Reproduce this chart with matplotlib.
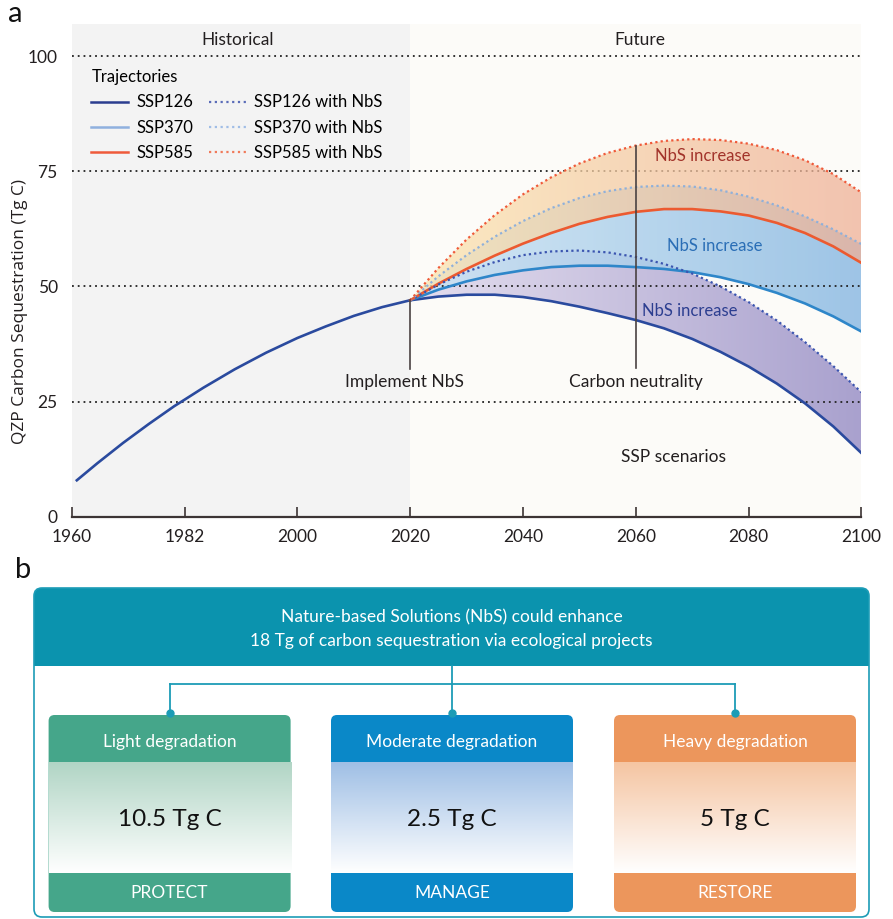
import numpy as np
import matplotlib
matplotlib.use("Agg")
import matplotlib.pyplot as plt
from matplotlib.path import Path
from matplotlib.patches import FancyBboxPatch, Rectangle
from matplotlib.colors import LinearSegmentedColormap
from matplotlib.lines import Line2D

plt.rcParams['font.family'] = ['Lato', 'DejaVu Sans']

# Data
# ~~~~~

tick_years = [1960, 1982, 2000, 2020, 2040, 2060, 2080, 2100]

hist_years = [1961, 1965, 1970, 1975, 1980, 1982, 1985, 1990, 1995, 2000, 2005, 2010, 2015, 2020]
hist_ssp126 = [7.9, 11.6, 16.0, 20.1, 24.0, 25.4, 28.0, 32.0, 35.6, 38.8, 41.3, 43.6, 45.5, 47.0]

fut_years = [2020, 2025, 2030, 2035, 2040, 2045, 2050, 2055, 2060,
             2065, 2070, 2075, 2080, 2085, 2090, 2095, 2100]
ssp126 = [47.0, 47.8, 48.2, 48.2, 47.7, 46.8, 45.6, 44.2, 42.7,
          40.9, 38.6, 35.8, 32.6, 28.9, 24.6, 19.6, 13.8]
ssp126_nbs = [47.0, 50.4, 53.2, 55.3, 56.8, 57.6, 57.8, 57.4, 56.4,
              54.9, 52.8, 50.0, 46.6, 42.6, 37.9, 32.7, 27.0]
ssp370 = [47.0, 49.3, 51.1, 52.5, 53.5, 54.2, 54.5, 54.5, 54.2,
          53.8, 53.1, 52.0, 50.5, 48.6, 46.3, 43.5, 40.2]
ssp370_nbs = [47.0, 52.2, 56.8, 60.8, 64.2, 67.0, 69.2, 70.7, 71.6,
              71.9, 71.7, 70.9, 69.5, 67.6, 65.2, 62.4, 59.2]
ssp585 = [47.0, 50.6, 53.8, 56.7, 59.3, 61.6, 63.6, 65.1, 66.2,
          66.8, 66.8, 66.3, 65.4, 63.8, 61.6, 58.7, 55.1]
ssp585_nbs = [47.0, 54.0, 60.2, 65.5, 70.0, 73.7, 76.7, 79.0, 80.6,
              81.6, 82.0, 81.8, 81.0, 79.6, 77.4, 74.4, 70.4]

legend_labels = ["SSP126", "SSP370", "SSP585",
                 "SSP126 with NbS", "SSP370 with NbS", "SSP585 with NbS"]

header_lines = ["Nature-based Solutions (NbS) could enhance",
                "18 Tg of carbon sequestration via ecological projects"]
card_titles = ["Light degradation", "Moderate degradation", "Heavy degradation"]
card_values = ["10.5 Tg C", "2.5 Tg C", "5 Tg C"]
card_actions = ["PROTECT", "MANAGE", "RESTORE"]


def to_pos(years):
    # the x axis has equally spaced ticks, 1960-1982 is 22 years wide
    return np.interp(years, tick_years, np.arange(len(tick_years)))


def gradient_band(ax, x, lo, hi, c_left, c_right, alpha, z):
    verts = np.column_stack([np.r_[x, x[::-1]], np.r_[lo, hi[::-1]]])
    path = Path(verts)
    cmap = LinearSegmentedColormap.from_list("band", [c_left, c_right])
    im = ax.imshow(np.linspace(0, 1, 256)[None, :], cmap=cmap, aspect="auto",
                   extent=(x.min(), x.max(), 0, 100), origin="lower",
                   alpha=alpha, zorder=z, interpolation="bicubic")
    im.set_clip_path(path, transform=ax.transData)


fig = plt.figure(figsize=(8.93, 9.19), dpi=100)

# Panel b canvas (pixel coordinates)
axb = fig.add_axes([0, 0, 1, 1], zorder=0)
axb.axis("off")

# Panel a
ax = fig.add_axes([0.0803, 0.4378, 0.8844, 0.5361], zorder=1)
ax.set_facecolor("none")

xh = to_pos(hist_years)
xf = to_pos(fut_years)
p2020 = to_pos(2020)
p1960 = to_pos(1960)
p2100 = to_pos(2100)

ax.axvspan(p1960, p2020, color="#f3f3f3", zorder=0, lw=0)
ax.axvspan(p2020, p2100, color="#fcfbf8", zorder=0, lw=0)

for yv in [25, 50, 75, 100]:
    ax.plot([p1960, p2100], [yv, yv], color="#222222", lw=1.3,
            linestyle=(0, (1, 2.2)), zorder=2)

gradient_band(ax, xf, np.array(ssp126), np.array(ssp126_nbs), "#e4deee", "#a9a1ce", 1.0, 1.5)
gradient_band(ax, xf, np.array(ssp370), np.array(ssp370_nbs), "#cde5f4", "#8dbbe3", 0.85, 1.6)
gradient_band(ax, xf, np.array(ssp585), np.array(ssp585_nbs), "#fbe5b0", "#efb197", 0.75, 2.5)

c126, c370, c585 = "#2a4a9e", "#2e86c9", "#ec5a30"
ax.plot(xh, hist_ssp126, color=c126, lw=1.9, zorder=3)
ax.plot(xf, ssp126, color=c126, lw=1.9, zorder=3)
ax.plot(xf, ssp370, color=c370, lw=1.9, zorder=3)
ax.plot(xf, ssp585, color=c585, lw=1.9, zorder=3)
ax.plot(xf, ssp126_nbs, color="#3b55b0", lw=1.6, ls=(0, (1, 1.4)), zorder=3)
ax.plot(xf, ssp370_nbs, color="#8fb0da", lw=1.6, ls=(0, (1, 1.4)), zorder=3)
ax.plot(xf, ssp585_nbs, color="#ef5a3a", lw=1.6, ls=(0, (1, 1.4)), zorder=3)

# annotations
ax.plot([p2020, p2020], [32.0, 47.0], color="#4a4242", lw=1.2, zorder=4)
ax.plot([to_pos(2060)] * 2, [32.2, 80.6], color="#4a4242", lw=1.2, zorder=4)
ax.text(to_pos(2019), 29.3, "Implement NbS", ha="center", va="center", fontsize=12.5, color="#231f20")
ax.text(to_pos(2060), 29.3, "Carbon neutrality", ha="center", va="center", fontsize=12.5, color="#231f20")
ax.text(to_pos(2066.7), 13.0, "SSP scenarios", ha="center", va="center", fontsize=12.5, color="#231f20")
ax.text(to_pos(2071.9), 78.3, "NbS increase", ha="center", va="center", fontsize=12, color="#a2332a", zorder=5)
ax.text(to_pos(2074.0), 58.7, "NbS increase", ha="center", va="center", fontsize=12, color="#2a6eb6", zorder=5)
ax.text(to_pos(2069.6), 44.6, "NbS increase", ha="center", va="center", fontsize=12, color="#2c3e90", zorder=5)
ax.text(to_pos(1990.5), 103.6, "Historical", ha="center", va="center", fontsize=12.5, color="#231f20")
ax.text(to_pos(2060.7), 103.6, "Future", ha="center", va="center", fontsize=12.5, color="#231f20")

# legend
handle_colors = ["#2b3d8f", "#8fb0de", "#ef5a3a", "#5a6cb8", "#a0bde6", "#f07a5a"]
handles = [Line2D([], [], color=c, lw=1.8) for c in handle_colors[:3]] + \
          [Line2D([], [], color=c, lw=1.6, ls=(0, (1, 1.6))) for c in handle_colors[3:]]
leg = ax.legend(handles, legend_labels, ncol=2, loc="upper left",
                bbox_to_anchor=(0.0143, 0.925), frameon=False, fontsize=12,
                title="Trajectories", title_fontsize=12, alignment="left",
                borderpad=0, handlelength=2.2, handletextpad=0.5,
                columnspacing=0.95, labelspacing=0.55)

# axes styling
ax.set_xlim(p1960, p2100)
ax.set_ylim(0, 107)
ax.set_xticks(np.arange(len(tick_years)))
ax.set_xticklabels([str(t) for t in tick_years])
ax.set_yticks([0, 25, 50, 75, 100])
ax.tick_params(axis="x", direction="in", length=7, width=1.2, color="#3c3434",
               labelsize=12.5, pad=9, labelcolor="#231f20")
ax.tick_params(axis="y", length=0, labelsize=12.5, pad=10, labelcolor="#231f20")
for s in ["top", "right", "left"]:
    ax.spines[s].set_visible(False)
ax.spines["bottom"].set_color("#3c3434")
ax.spines["bottom"].set_linewidth(1.6)
ax.set_ylabel("QZP Carbon Sequestration (Tg C)", fontsize=12.5, family=["Open Sans", "DejaVu Sans"],
              color="#231f20")
ax.yaxis.set_label_coords(-0.055, 0.417)

# Panel b
teal = "#0b93ae"
axb.add_patch(FancyBboxPatch((34, 588), 835, 329, boxstyle="round,pad=0,rounding_size=8",
                             facecolor="white", edgecolor="none"))
axb.add_patch(FancyBboxPatch((34, 588), 835, 78, boxstyle="round,pad=0,rounding_size=8",
                             facecolor=teal, edgecolor="none"))
axb.add_patch(Rectangle((34, 640), 835, 26, facecolor=teal, edgecolor="none"))
axb.add_patch(FancyBboxPatch((34, 588), 835, 329, boxstyle="round,pad=0,rounding_size=8",
                             facecolor="none", edgecolor="#1c9cb6", lw=1.2))
axb.text(451.5, 617, header_lines[0], ha="center", va="center", color="white", fontsize=12.5)
axb.text(451.5, 641, header_lines[1], ha="center", va="center", color="white", fontsize=12.5)

card_x = [48.6, 331, 614]
card_w = 242
centers = [x0 + card_w / 2 for x0 in card_x]
line_c = "#1c9cb6"
axb.plot([centers[1], centers[1]], [666, 684], color=line_c, lw=1.3)
axb.plot([centers[0], centers[2]], [684, 684], color=line_c, lw=1.3)
for cx in centers:
    axb.plot([cx, cx], [684, 713], color=line_c, lw=1.3)
    axb.plot(cx, 713, "o", color=line_c, ms=5)

band_colors = ["#45a68a", "#0a88c8", "#ec965c"]
light_colors = ["#b1d5c5", "#9fbfe5", "#f5c5a2"]
for i, x0 in enumerate(card_x):
    axb.add_patch(FancyBboxPatch((x0, 715), card_w, 197, boxstyle="round,pad=0,rounding_size=6",
                                 facecolor=band_colors[i], edgecolor="none"))
    cmap = LinearSegmentedColormap.from_list("card", [light_colors[i], "white"])
    axb.imshow(np.linspace(0, 1, 256)[:, None], cmap=cmap, aspect="auto",
               extent=(x0, x0 + card_w, 873, 762), origin="upper", zorder=2)
    cx = x0 + card_w / 2
    axb.text(cx, 742, card_titles[i], ha="center", va="center", color="white", fontsize=12.5, zorder=3)
    axb.text(cx, 820, card_values[i], ha="center", va="center", color="#111111", fontsize=17.5, zorder=3)
    axb.text(cx, 893, card_actions[i], ha="center", va="center", color="white", fontsize=12.5, zorder=3)

axb.text(23, 570, "b", ha="center", va="center", fontsize=21, color="#111111")
axb.text(15, 14, "a", ha="center", va="center", fontsize=21, color="#111111")
axb.set_xlim(0, 893)
axb.set_ylim(919, 0)

fig.savefig("out.png", dpi=100)
